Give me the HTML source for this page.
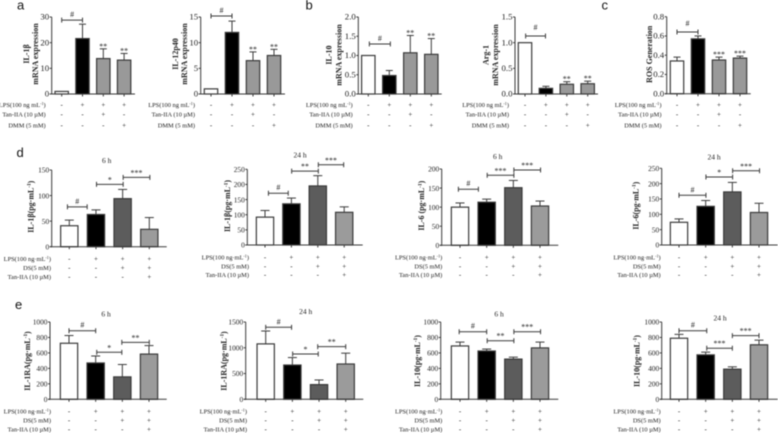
<!DOCTYPE html>
<html lang="en">
<head>
<meta charset="utf-8">
<title>Cytokine bar charts</title>
<style>
html,body{margin:0;padding:0;background:#fff;width:778px;height:433px;overflow:hidden}
svg{display:block;filter:blur(0.45px)}
text{font-family:"Liberation Serif",serif;fill:#222}
.letter{font-family:"Liberation Sans",sans-serif;font-size:13px;fill:#111}
.tick{font-size:8.8px;text-anchor:end}
.tick.small{font-size:7.4px}
.ylab{font-size:8px;font-weight:bold;text-anchor:middle}
.row{font-size:6.4px;text-anchor:end}
.sym{font-size:7px;text-anchor:middle}
.title{font-size:7.5px;text-anchor:middle}
.sig{font-size:8px;text-anchor:middle}
</style>
</head>
<body>
<svg id="figure" width="778" height="433" viewBox="0 0 778 433" xmlns="http://www.w3.org/2000/svg"></svg>
<script>
// ---- shared categories ----
const lpsRow = ['-', '+', '+', '+'];
const tanRow = ['-', '-', '+', '-'];
const dmmRow = ['-', '-', '-', '+'];
const dsRow = ['-', '-', '+', '+'];
const tanRow2 = ['-', '-', '-', '+'];
const rowLabelsTop = ['LPS(100 ng mL|-1|)', 'Tan-IIA (10 µM)', 'DMM (5 mM)'];
const rowLabelsBottom = ['LPS(100 ng·mL|-1|)', 'DS(5 mM)', 'Tan-IIA (10 µM)'];

// ---- panel a ----
const a1Values = [1, 21.6, 13.8, 13.2];
const a1Errors = [0, 5.6, 3.8, 2.6];
const a1Ticks = ['0', '10', '20', '30'];
const a1Stars = ['', '', '**', '**'];
const a1Brackets = [[0, 1, 28.8, '#']];
const a2Values = [1, 12, 6.5, 7.5];
const a2Errors = [0, 2.2, 1.7, 1.2];
const a2Ticks = ['0', '5', '10', '15'];
const a2Stars = ['', '', '**', '**'];
const a2Brackets = [[0, 1, 15.2, '#']];

// ---- panel b ----
const b1Values = [1, 0.48, 1.07, 1.03];
const b1Errors = [0, 0.13, 0.45, 0.41];
const b1Ticks = ['0.0', '0.5', '1.0', '1.5', '2.0'];
const b1Stars = ['', '', '**', '**'];
const b1Brackets = [[0.05, 1.05, 1.3, '#']];
const b2Values = [1, 0.11, 0.19, 0.2];
const b2Errors = [0, 0.04, 0.05, 0.05];
const b2Ticks = ['0.0', '0.5', '1.0', '1.5'];
const b2Stars = ['', '', '**', '**'];
const b2Brackets = [[0.03, 0.98, 1.13, '#', 6]];

// ---- panel c ----
const cValues = [0.34, 0.57, 0.35, 0.37];
const cErrors = [0.04, 0.03, 0.03, 0.02];
const cTicks = ['0.0', '0.2', '0.4', '0.6', '0.8'];
const cStars = ['', '', '***', '***'];
const cBrackets = [[0, 1, 0.641, '#', 6]];

// ---- panel d ----
const d1Values = [41, 63, 94, 34];
const d1Errors = [11, 9, 18, 23];
const d1Ticks = ['0', '50', '100', '150'];
const d1Brackets = [[-0.07, 0.67, 78, '#'], [1.02, 2.02, 122, '*'], [2.02, 3.02, 135.5, '***']];
const d2Values = [92, 136, 195, 108];
const d2Errors = [22, 19, 34, 18];
const d2Ticks = ['0', '50', '100', '150', '200', '250'];
const d2Brackets = [[0.13, 0.88, 171, '#'], [1.01, 2.02, 244, '**'], [2.02, 2.98, 265, '***']];
const d3Values = [100, 113, 151, 103];
const d3Errors = [11, 8, 19, 13];
const d3Ticks = ['0', '50', '100', '150', '200'];
const d3Brackets = [[-0.06, 0.69, 147, '#'], [1.02, 2.02, 183.5, '***'], [2.02, 3.02, 197.4, '***']];
const d4Values = [74, 126, 173, 106];
const d4Errors = [11, 19, 31, 30];
const d4Ticks = ['0', '50', '100', '150', '200', '250'];
const d4Brackets = [[0, 1.01, 162, '#'], [1.01, 2.01, 221.6, '*'], [2.01, 3.02, 242, '***']];

// ---- panel e ----
const e1Values = [725, 470, 290, 585];
const e1Errors = [100, 90, 160, 110];
const e1Ticks = ['0', '200', '400', '600', '800', '1000'];
const e1Brackets = [[0, 1, 887, '#'], [1.04, 1.98, 608, '*'], [1.98, 3.01, 737, '**']];
const e2Values = [1075, 665, 285, 685];
const e2Errors = [250, 145, 90, 210];
const e2Ticks = ['0', '500', '1000', '1500'];
const e2Brackets = [[0, 0.97, 1397, '#'], [1.01, 1.97, 879, '*'], [1.95, 3, 1021, '**']];
const e3Values = [690, 625, 520, 665];
const e3Errors = [50, 25, 25, 75];
const e3Ticks = ['0', '200', '400', '600', '800', '1000'];
const e3Brackets = [[-0.03, 1, 874, '#'], [1.02, 2.02, 758, '**'], [2.02, 3.02, 874, '***']];
const e4Values = [790, 575, 390, 705];
const e4Errors = [50, 35, 30, 60];
const e4Ticks = ['0', '200', '400', '600', '800', '1000'];
const e4Brackets = [[0, 1.04, 887, '#'], [1.04, 2, 661, '***'], [2, 3, 823, '***']];

const noStars = ['', '', '', ''];
const topFills = ['#ffffff', '#000000', '#999999', '#999999'];
const bottomFills = ['#ffffff', '#000000', '#5c5c5c', '#9b9b9b'];
const topRows = [lpsRow, tanRow, dmmRow];
const bottomRows = [lpsRow, dsRow, tanRow2];

const panels = [
  {id:'il1b-mrna', v:a1Values, e:a1Errors, t:a1Ticks, s:a1Stars, b:a1Brackets, ax:51.7, end:135, top:17, base:94, first:61.7, step:20.8, bw:13.4, cap:7, right:45.7, fills:topFills, rows:topRows, labels:rowLabelsTop, rowY:[107,116.5,127.5], yl:[['IL-1β',26.7],['mRNA expression',35.5]], ylY:54},
  {id:'il12p40-mrna', v:a2Values, e:a2Errors, t:a2Ticks, s:a2Stars, b:a2Brackets, ax:200.7, end:285, top:17, base:94, first:211, step:21, bw:13.4, cap:7, right:195, fills:topFills, rows:topRows, labels:rowLabelsTop, rowY:[107,116.5,127.5], yl:[['IL-12p40',175.7],['mRNA expression',184.5]], ylY:54},
  {id:'il10-mrna', v:b1Values, e:b1Errors, t:b1Ticks, s:b1Stars, b:b1Brackets, ax:358.3, end:441.7, top:17, base:94, first:368.3, step:21, bw:13.4, cap:7, right:352.7, fills:topFills, rows:topRows, labels:rowLabelsTop, rowY:[107,116.5,127.5], yl:[['IL-10',329],['mRNA expression',339]], ylY:55},
  {id:'arg1-mrna', v:b2Values, e:b2Errors, t:b2Ticks, s:b2Stars, b:b2Brackets, ax:515, end:598, top:17, base:94, first:525, step:20.9, bw:13.4, cap:7, right:509, fills:topFills, rows:topRows, labels:rowLabelsTop, rowY:[107,116.5,127.5], yl:[['Arg-1',486],['mRNA expression',495.7]], ylY:55},
  {id:'ros', v:cValues, e:cErrors, t:cTicks, s:cStars, b:cBrackets, ax:666.7, end:750.7, top:16.7, base:93.7, first:677, step:21, bw:13.4, cap:7, right:661.5, fills:topFills, rows:topRows, labels:rowLabelsTop, rowY:[107,116.5,127.5], yl:[['ROS Generation',649.5]], ylY:54.3},

  {id:'il1b-6h', title:'6 h', tx:106.7, ty:163, v:d1Values, e:d1Errors, t:d1Ticks, s:noStars, b:d1Brackets, ax:51.7, end:166.7, top:170, base:246.7, first:69.3, step:26.67, bw:17.3, cap:9, right:51, fills:bottomFills, rows:bottomRows, labels:rowLabelsBottom, rowY:[261,270,279], yl:[['IL-1β(pg·mL|-1|)',31]], ylY:206.7},
  {id:'il1b-24h', title:'24 h', tx:300, ty:157.5, v:d2Values, e:d2Errors, t:d2Ticks, s:noStars, b:d2Brackets, ax:247.3, end:362.7, top:169.3, base:245, first:265, step:26.4, bw:17.3, cap:9, right:249, fills:bottomFills, rows:bottomRows, labels:rowLabelsBottom, rowY:[259.5,268.5,277], yl:[['IL-1β(pg·mL|-1|)',227.7]], ylY:206},
  {id:'il6-6h', title:'6 h', tx:497.7, ty:159, v:d3Values, e:d3Errors, t:d3Ticks, s:noStars, b:d3Brackets, ax:441.7, end:558.3, top:169, base:245.3, first:460, step:26.67, bw:17.3, cap:9, right:442.3, fills:bottomFills, rows:bottomRows, labels:rowLabelsBottom, rowY:[259.5,268.5,277], yl:[['IL-6 (pg·mL|-1|)',421.7]], ylY:205.7},
  {id:'il6-24h', title:'24 h', tx:714, ty:159.5, v:d4Values, e:d4Errors, t:d4Ticks, s:noStars, b:d4Brackets, ax:661.7, end:777.7, top:168.3, base:245, first:679, step:26.67, bw:17.3, cap:9, right:660.7, fills:bottomFills, rows:bottomRows, labels:rowLabelsBottom, rowY:[259.5,268.5,277], yl:[['IL-6(pg·mL|-1|)',636]], ylY:205.7},

  {id:'il1ra-6h', title:'6 h', tx:106, ty:316.5, v:e1Values, e:e1Errors, t:e1Ticks, s:noStars, b:e1Brackets, ax:50, end:166.7, top:322, base:399.3, first:69, step:26.67, bw:17.3, cap:9, right:51, fills:bottomFills, rows:bottomRows, labels:rowLabelsBottom, rowY:[413.5,422.5,431.5], yl:[['IL-1RA(pg·mL|-1|)',27.3]], ylY:361},
  {id:'il1ra-24h', title:'24 h', tx:305.7, ty:314, v:e2Values, e:e2Errors, t:e2Ticks, s:noStars, b:e2Brackets, ax:245.7, end:363.3, top:322, base:399.3, first:265.7, step:26.67, bw:17.3, cap:9, right:247, fills:bottomFills, rows:bottomRows, labels:rowLabelsBottom, rowY:[413.5,422.5,431.5], yl:[['IL-1RA(pg·mL|-1|)',224]], ylY:361},
  {id:'il10-6h', title:'6 h', tx:499, ty:316.5, v:e3Values, e:e3Errors, t:e3Ticks, s:noStars, b:e3Brackets, ax:440.7, end:558.3, top:322, base:399.3, first:460, step:26.67, bw:17.3, cap:9, right:442.3, fills:bottomFills, rows:bottomRows, labels:rowLabelsBottom, rowY:[413.5,422.5,431.5], yl:[['IL-10(pg·mL|-1|)',417.3]], ylY:361},
  {id:'il10-24h', title:'24 h', tx:720, ty:320.5, v:e4Values, e:e4Errors, t:e4Ticks, s:noStars, b:e4Brackets, ax:661.7, end:777.7, top:322, base:399.3, first:679, step:26.67, bw:17.3, cap:9, right:660.7, fills:bottomFills, rows:bottomRows, labels:rowLabelsBottom, rowY:[413.5,422.5,431.5], yl:[['IL-10(pg·mL|-1|)',637]], ylY:361}
];

const panelLetters = [['a',17,9.5],['b',305.5,9.5],['c',601.5,9.5],['d',16.5,157],['e',15,309]];

const NS = 'http://www.w3.org/2000/svg';
const figure = document.getElementById('figure');
const STROKE = '#3a3a3a';

function mk(parent, tag, attrs) {
  const el = document.createElementNS(NS, tag);
  for (const k in attrs) el.setAttribute(k, attrs[k]);
  parent.appendChild(el);
  return el;
}
function rich(el, str, size) {
  const parts = str.split('|');
  parts.forEach((part, i) => {
    const sp = document.createElementNS(NS, 'tspan');
    sp.textContent = part;
    if (i % 2 === 1) {
      sp.setAttribute('dy', -size * 0.35);
      sp.setAttribute('font-size', size * 0.65);
    } else if (i > 0) {
      sp.setAttribute('dy', size * 0.35);
    }
    el.appendChild(sp);
  });
}
function seg(parent, x1, y1, x2, y2, w) {
  return mk(parent, 'line', {x1:x1, y1:y1, x2:x2, y2:y2, stroke:STROKE, 'stroke-width':w || 1});
}

panelLetters.forEach(([ch, x, y]) => {
  const t = mk(figure, 'text', {x:x, y:y, class:'letter'});
  
  
  t.textContent = ch;
});

panels.forEach(p => {
  const maxV = parseFloat(p.t[p.t.length - 1]);
  const yOf = v => p.base - (v / maxV) * (p.base - p.top);
  const xOf = i => p.first + i * p.step;

  const g = mk(figure, 'g', {});
  
  

  if (p.title) {
    const t = mk(g, 'text', {x:p.tx, y:p.ty, class:'title'});
    
    
    t.textContent = p.title;
  }

  p.yl.forEach(([label, x]) => {
    const t = mk(g, 'text', {x:x + 2.5, y:p.ylY, class:'ylab', transform:'rotate(-90 ' + (x + 2.5) + ' ' + p.ylY + ')'});
    
    
    rich(t, label, 8);
  });

  // bars and error bars
  p.v.forEach((val, i) => {
    const x = xOf(i);
    const bar = mk(g, 'rect', {x:x - p.bw / 2, y:yOf(val), width:p.bw, height:p.base - yOf(val), fill:p.fills[i], stroke:STROKE, 'stroke-width':1.2});
    
    
    if (p.e[i] > 0) {
      const top = yOf(val + p.e[i]);
      const eg = mk(g, 'g', {});
      
      
      seg(eg, x, yOf(val), x, top);
      seg(eg, x - p.cap / 2, top, x + p.cap / 2, top);
    }
    if (p.s[i]) {
      const t = mk(g, 'text', {x:x, y:yOf(val + p.e[i]), class:'sig'});
      
      
      t.textContent = p.s[i];
    }
  });

  // axes
  const yAxis = seg(g, p.ax, p.top, p.ax, p.base + 0.5);
  
  
  const xAxis = seg(g, p.ax - 2, p.base, p.end, p.base);
  
  

  p.t.forEach(label => {
    const y = yOf(parseFloat(label));
    seg(g, p.ax - 2, y, p.ax, y);
    const t = mk(g, 'text', {x:p.ax - 2.5, y:y + 2.7, class:p.title ? 'tick small' : 'tick'});
    
    
    t.textContent = label;
  });
  p.v.forEach((val, i) => seg(g, xOf(i), p.base, xOf(i), p.base + 2.5));

  // significance brackets
  p.b.forEach(br => {
    const [from, to, level, label, lift] = br;
    const y = yOf(level), x0 = xOf(from), x1 = xOf(to);
    const bg = mk(g, 'g', {});
    
    
    seg(bg, x0, y, x1, y);
    seg(bg, x0, y - 2.5, x0, y + 2.5);
    seg(bg, x1, y - 2.5, x1, y + 2.5);
    const t = mk(bg, 'text', {x:(x0 + x1) / 2, y:y - (lift || (label === '#' ? 3 : 2)), class:'sig'});
    
    
    t.textContent = label;
  });

  // treatment rows
  p.rows.forEach((row, r) => {
    const t = mk(g, 'text', {x:p.right, y:p.rowY[r], class:'row'});
    
    
    rich(t, p.labels[r], 6.4);
    row.forEach((sym, i) => {
      const st = mk(g, 'text', {x:xOf(i), y:p.rowY[r], class:'sym'});
      
      
      st.textContent = sym;
    });
  });
});
</script>
</body>
</html>
